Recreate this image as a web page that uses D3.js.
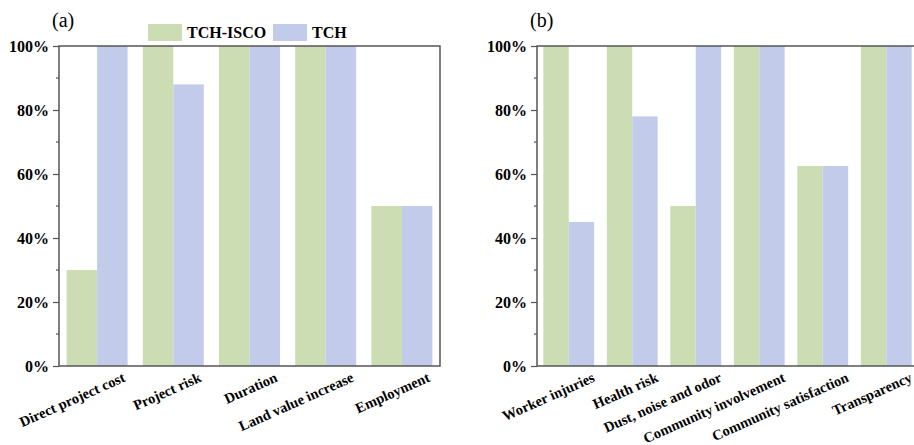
<!DOCTYPE html>
<html>
<head>
<meta charset="utf-8">
<script src="https://cdn.jsdelivr.net/npm/d3@7"></script>
<style>
  html, body { margin: 0; padding: 0; background: #fff; }
  svg { display: block; font-family: "Liberation Serif", "Times New Roman", serif; }
</style>
</head>
<body>
<svg id="chart" width="914" height="445"></svg>
<script>
// ── Data ──────────────────────────────────────────────────────────────
const seriesNames = ['TCH-ISCO', 'TCH'];
const seriesColors = ['#ccdcb3', '#c2cbea'];

const catsA = ['Direct project cost', 'Project risk', 'Duration', 'Land value increase', 'Employment'];
const tchIscoA = [30, 100, 100, 100, 50];
const tchA     = [100, 88, 100, 100, 50];

const catsB = ['Worker injuries', 'Health risk', 'Dust, noise and odor', 'Community involvement', 'Community satisfaction', 'Transparency'];
const tchIscoB = [100, 100, 50, 100, 62.5, 100];
const tchB     = [45, 78, 100, 100, 62.5, 100];

const yTicks = [0, 20, 40, 60, 80, 100];
const yMinor = [10, 30, 50, 70, 90];

const svg = d3.select('#chart');
const axisColor = '#555';

// ── One panel ─────────────────────────────────────────────────────────
function panel(label, cats, s1, s2, x0, x1, labOff) {
    const top = 46, bottom = 366;
    const g = svg.append('g');

    const x = d3.scaleBand().domain(cats).range([x0, x1]).paddingInner(0.2).paddingOuter(0.1);
    const xs = d3.scaleBand().domain(seriesNames).range([0, x.bandwidth()]);
    const y = d3.scaleLinear().domain([0, 100]).range([bottom, top]);

    const rows = cats.map((c, i) => ({ cat: c, vals: [s1[i], s2[i]] }));

    g.selectAll('g.grp').data(rows).join('g')
        .attr('class', 'grp')
        .attr('transform', d => `translate(${x(d.cat)},0)`)
        .selectAll('rect').data(d => d.vals.map((v, k) => ({ k, v })))
        .join('rect')
        .attr('x', d => xs(seriesNames[d.k]))
        .attr('width', xs.bandwidth())
        .attr('y', d => y(d.v))
        .attr('height', d => y(0) - y(d.v))
        .attr('fill', d => seriesColors[d.k]);

    // y axis
    const ya = g.append('g').attr('transform', `translate(${x0},0)`)
        .call(d3.axisLeft(y).tickValues(yTicks).tickSize(6).tickPadding(4).tickFormat(d => d + '%'));
    ya.select('.domain').remove();
    ya.selectAll('line').attr('stroke', axisColor).attr('stroke-width', 1.2);
    ya.selectAll('text').attr('font-size', 16).attr('font-weight', 'bold')
        .attr('font-family', '"Liberation Serif", serif').attr('fill', '#000');

    g.append('g').selectAll('line').data(yMinor).join('line')
        .attr('x1', x0 - 3).attr('x2', x0)
        .attr('y1', d => y(d)).attr('y2', d => y(d))
        .attr('stroke', axisColor).attr('stroke-width', 1.2);

    // frame
    g.append('rect').attr('x', x0).attr('y', top).attr('width', x1 - x0).attr('height', bottom - top)
        .attr('fill', 'none').attr('stroke', axisColor).attr('stroke-width', 1.5);

    // x labels
    g.append('g').selectAll('text').data(cats).join('text')
        .attr('transform', d => `translate(${x(d) + x.bandwidth() / 2 + labOff},381) rotate(-24)`)
        .attr('text-anchor', 'end')
        .attr('font-size', 14.5).attr('font-weight', 'bold')
        .text(d => d);

    // panel label
    svg.append('text').attr('x', x0 - 7).attr('y', 27)
        .attr('font-size', 20).text(label);
}

panel('(a)', catsA, tchIscoA, tchA, 59, 440, 29);
panel('(b)', catsB, tchIscoB, tchB, 537, 918, 27);

// ── Legend ────────────────────────────────────────────────────────────
const legend = svg.append('g');
const legX = [148, 273];
seriesNames.forEach((n, i) => {
    legend.append('rect').attr('x', legX[i]).attr('y', 24).attr('width', 34).attr('height', 17)
        .attr('fill', seriesColors[i]);
    legend.append('text').attr('x', legX[i] + 39).attr('y', 38)
        .attr('font-size', 16).attr('font-weight', 'bold').text(n);
});
</script>
</body>
</html>
